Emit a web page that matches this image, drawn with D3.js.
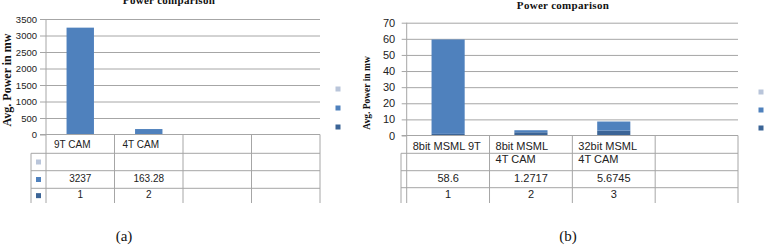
<!DOCTYPE html>
<html>
<head>
<meta charset="utf-8">
<script src="https://d3js.org/d3.v7.min.js"></script>
<style>
  body { margin: 0; background: #fff; }
  svg { display: block; }
  .grid line { stroke: #a6a6a6; }
  .grid .domain { stroke: none; }
  .axis .domain { stroke: #a6a6a6; }
  .axis line { stroke: #a6a6a6; }
  .axis text { font-family: "Liberation Sans", Arial, sans-serif; fill: #222; }
  .tbl line { stroke: #a6a6a6; stroke-width: 1; }
  .tbl text { font-family: "Liberation Sans", Arial, sans-serif; fill: #222; }
  .title { font-family: "Liberation Serif", "Times New Roman", serif; font-weight: bold; fill: #111; }
  .caption { font-family: "Liberation Serif", "Times New Roman", serif; fill: #111; }
</style>
</head>
<body>
<svg id="chart" width="776" height="246"></svg>
<script>
// ---- data: chart (a)
const catsA = [["9T CAM"], ["4T CAM"], [""], [""]];
const powerA = [3237, 163.28];
const indexA = [1, 2];
const ticksA = [0, 500, 1000, 1500, 2000, 2500, 3000, 3500];

// ---- data: chart (b)
const catsB = [["8bit MSML 9T"], ["8bit MSML", "4T CAM"], ["32bit MSML", "4T CAM"], [""]];
const powerB = [58.6, 1.2717, 5.6745];
const indexB = [1, 2, 3];
const ticksB = [0, 10, 20, 30, 40, 50, 60, 70];

const titleText = "Power comparison";
const yTitle = "Avg. Power in mw";

const colLight = "#b9c5da";
const colMid = "#4f81bd";
const colDark = "#3b6496";

const svg = d3.select("#chart");

function drawChart(o) {
  const g = svg.append("g");

  const x = d3.scaleBand().domain(d3.range(o.cats.length))
              .range([o.left, o.right]).paddingInner(0.6).paddingOuter(0.3);
  const y = d3.scaleLinear().domain([0, o.ticks[o.ticks.length - 1]]).range([o.bottom, o.top]);

  // gridlines
  g.append("g").attr("class", "grid")
   .attr("transform", `translate(${o.left},0)`)
   .call(d3.axisLeft(y).tickValues(o.ticks.slice(1)).tickFormat("").tickSize(-(o.right - o.left)));

  // y axis
  const ax = g.append("g").attr("class", "axis")
   .attr("transform", `translate(${o.left},0)`)
   .call(d3.axisLeft(y).tickValues(o.ticks).tickFormat(d3.format("d"))
          .tickSize(o.tickSize).tickPadding(o.tickPad).tickSizeOuter(0));
  ax.selectAll("text").style("font-size", o.tickFont + "px");
  ax.select(".domain").attr("d", `M0,${o.top}V${o.bottom}`);

  // stacked bars: index series at bottom, power on top
  g.selectAll("rect.low").data(o.index).join("rect").attr("class", "low")
   .attr("x", (d, i) => x(i)).attr("width", x.bandwidth())
   .attr("y", d => y(d)).attr("height", d => y(0) - y(d))
   .attr("fill", colDark);
  g.selectAll("rect.high").data(o.power).join("rect").attr("class", "high")
   .attr("x", (d, i) => x(i)).attr("width", x.bandwidth())
   .attr("y", (d, i) => y(d + o.index[i])).attr("height", (d, i) => y(o.index[i]) - y(d + o.index[i]))
   .attr("fill", colMid);

  // baseline
  g.append("line").attr("x1", o.left - o.tickSize).attr("x2", o.right)
   .attr("y1", y(0)).attr("y2", y(0)).attr("stroke", "#a6a6a6");

  // data table
  const t = g.append("g").attr("class", "tbl");
  const step = x.step();
  const edges = d3.range(o.cats.length + 1).map(i => o.left + i * step);
  const rows = o.rows; // y of horizontal lines below header
  edges.forEach(ex => t.append("line").attr("x1", ex).attr("x2", ex).attr("y1", y(0)).attr("y2", o.tblBottom));
  t.append("line").attr("x1", o.keyLeft).attr("x2", o.keyLeft).attr("y1", rows[0]).attr("y2", o.tblBottom);
  rows.forEach(ry => t.append("line").attr("x1", o.keyLeft).attr("x2", o.right).attr("y1", ry).attr("y2", ry));

  // header text
  o.cats.forEach((lines, i) => {
    lines.forEach((s, k) => {
      t.append("text").attr("x", edges[i] + o.headPad).attr("y", o.headY[k])
       .attr("dominant-baseline", "middle").style("font-size", o.tblFont + "px").text(s);
    });
  });
  const cellMid = (i) => edges[i] + step / 2;
  const rowMid = (k) => (rows[k] + (rows[k + 1] || o.tblBottom)) / 2;
  o.power.forEach((v, i) => t.append("text").attr("x", cellMid(i)).attr("y", rowMid(1))
    .attr("text-anchor", "middle").attr("dominant-baseline", "middle").style("font-size", o.tblFont + "px").text(v));
  o.index.forEach((v, i) => t.append("text").attr("x", cellMid(i)).attr("y", rowMid(2))
    .attr("text-anchor", "middle").attr("dominant-baseline", "middle").style("font-size", o.tblFont + "px").text(v));

  // key squares in table
  const keyCols = [colLight, colMid, colDark];
  if (o.left - o.keyLeft > 8) {
    keyCols.forEach((c, k) => t.append("rect")
      .attr("x", (o.keyLeft + o.left) / 2 - 2.5).attr("y", rowMid(k) - 2.5)
      .attr("width", 5).attr("height", 5).attr("fill", c));
  }

  // side legend
  keyCols.forEach((c, k) => g.append("rect")
    .attr("x", o.legX - 2.5).attr("y", o.legY[k] - 2.5).attr("width", 5).attr("height", 5).attr("fill", c));

  // titles
  g.append("text").attr("class", "title").attr("x", o.titleX).attr("y", o.titleY)
   .attr("text-anchor", "middle").style("font-size", "11px").style("letter-spacing", "0.3px").text(titleText);
  g.append("text").attr("class", "title")
   .attr("transform", `translate(${o.yTitleX},${o.yTitleY}) rotate(-90)`)
   .attr("text-anchor", "middle").style("font-size", o.yTitleFont + "px").text(yTitle);
  g.append("text").attr("class", "caption").attr("x", o.capX).attr("y", 241)
   .attr("text-anchor", "middle").style("font-size", "15px").text(o.caption);
}

drawChart({
  cats: catsA, power: powerA, index: indexA, ticks: ticksA,
  left: 46, right: 320, top: 19, bottom: 134.5, keyLeft: 31,
  tickSize: 6, tickPad: 3, tickFont: 9.5,
  rows: [153.3, 170.7, 188.3], tblBottom: 203, tblFont: 10,
  headPad: 8, headY: [145.5],
  legX: 338, legY: [89, 108, 127],
  titleX: 169, titleY: 4, yTitleX: 11, yTitleY: 80, yTitleFont: 12,
  capX: 124, caption: "(a)"
});

drawChart({
  cats: catsB, power: powerB, index: indexB, ticks: ticksB,
  left: 406.7, right: 738, top: 22.7, bottom: 135.5, keyLeft: 401,
  tickSize: 5, tickPad: 6.5, tickFont: 11,
  rows: [153.3, 170.7, 187.7], tblBottom: 203, tblFont: 11,
  headPad: 6, headY: [146.7, 160],
  legX: 761, legY: [92, 110, 128],
  titleX: 563, titleY: 9, yTitleX: 370, yTitleY: 93, yTitleFont: 9.5,
  capX: 568, caption: "(b)"
});
</script>
</body>
</html>
